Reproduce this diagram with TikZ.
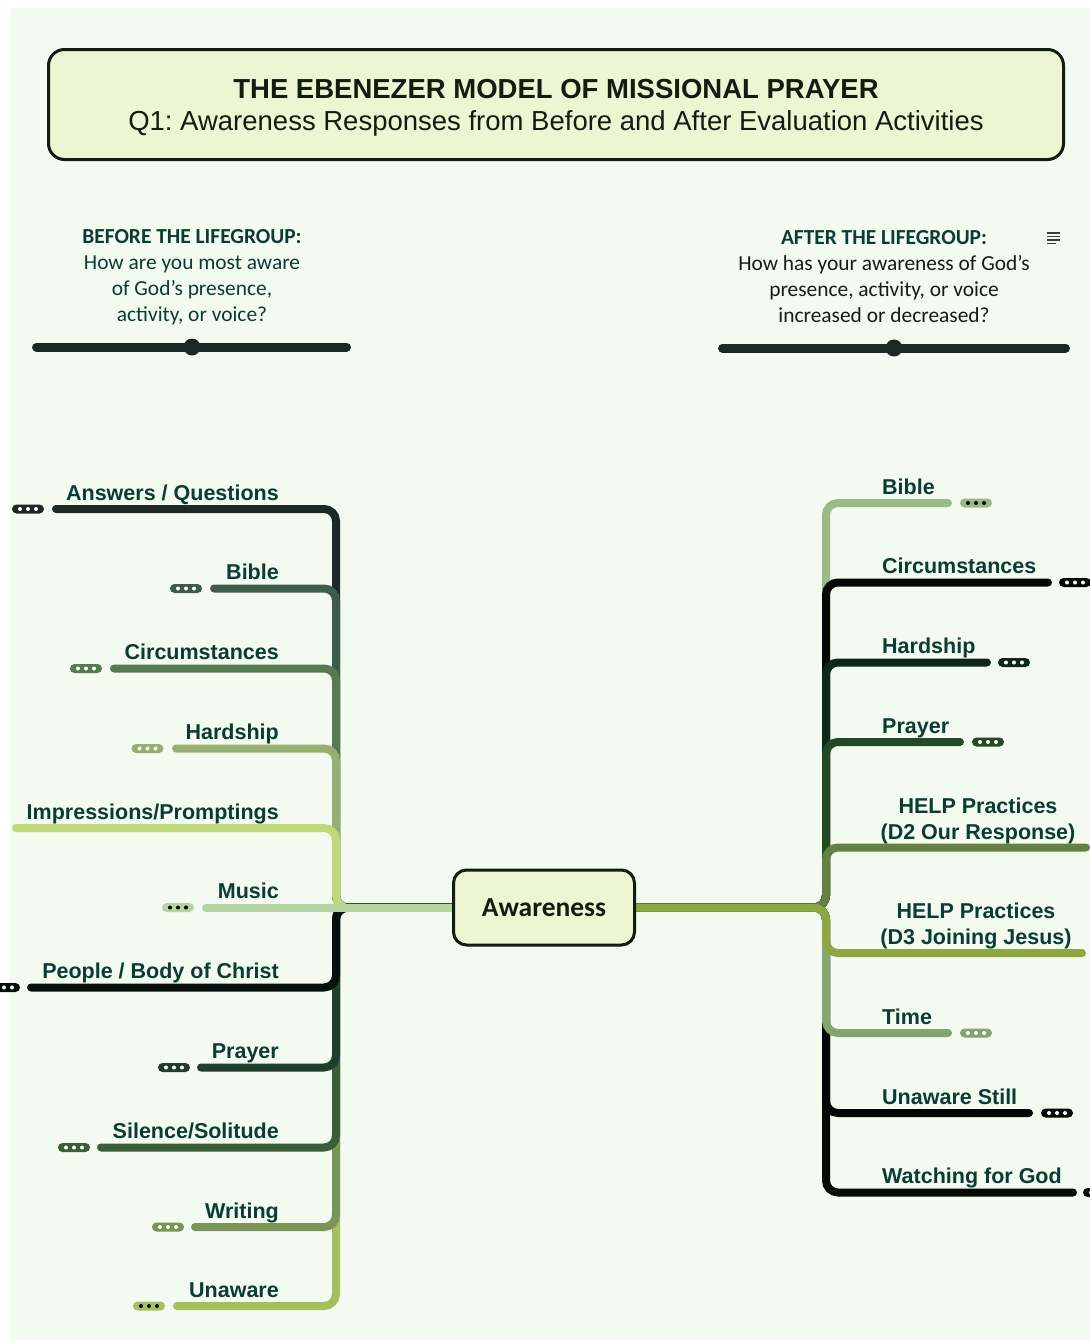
\documentclass[tikz,border=0pt]{standalone}
\usepackage{fontspec}
\setmainfont{Liberation Sans}
\newfontfamily\calfont{Carlito}
\usetikzlibrary{backgrounds}

\definecolor{mint}{HTML}{F3FAEF}
\definecolor{pale}{HTML}{EEF5D3}
\definecolor{edge}{HTML}{121C10}
\definecolor{labtxt}{HTML}{0B3B35}
\definecolor{bar}{HTML}{1C2826}
\definecolor{icon}{HTML}{34403E}
% left branches
\definecolor{c-ans}{HTML}{1C2926}
\definecolor{c-bib}{HTML}{3E5C4A}
\definecolor{c-cir}{HTML}{567A52}
\definecolor{c-har}{HTML}{96AE72}
\definecolor{c-imp}{HTML}{BFD878}
\definecolor{c-mus}{HTML}{B3D3A0}
\definecolor{c-peo}{HTML}{050F0B}
\definecolor{c-pra}{HTML}{213D2C}
\definecolor{c-sil}{HTML}{3A5E38}
\definecolor{c-wri}{HTML}{7A9458}
\definecolor{c-una}{HTML}{A4BF5E}
% right branches
\definecolor{c-rbib}{HTML}{9CBA86}
\definecolor{c-rcir}{HTML}{050805}
\definecolor{c-rhar}{HTML}{0D2818}
\definecolor{c-rpra}{HTML}{234A22}
\definecolor{c-rd2}{HTML}{667F42}
\definecolor{c-rd3}{HTML}{8DA842}
\definecolor{c-rtim}{HTML}{85A56E}
\definecolor{c-runa}{HTML}{030604}
\definecolor{c-rwat}{HTML}{020C05}

\begin{document}
\begin{tikzpicture}[x = 1pt, y = -1pt,
    branch/.style = {line width = 8pt, line cap = round, rounded corners = 12pt},
    lbl/.style = {inner sep = 0pt, text = labtxt, font = \fontsize{21.5}{26}\selectfont\bfseries},
    head/.style = {anchor = base, align = center, inner sep = 0pt, font = \calfont\fontsize{21.4}{26}\selectfont},
    more/.style 2 args = {rectangle, rounded corners = 4.5pt, fill = #1, inner sep = 0pt,
        minimum width = 32pt, minimum height = 9pt,
        path picture = {\foreach \k in {-8,0,8}
            \fill[#2] ([xshift = \k pt]path picture bounding box.center) circle (2pt);}},
    slider/.style = {line width = 9pt, line cap = round, draw = bar}]
\useasboundingbox (0,0) rectangle (1090,1342);

\node[draw = edge, line width = 3pt, fill = pale, rounded corners = 16pt,
    minimum width = 1015pt, minimum height = 110pt] (title) at (556,104.5) {};
\node[anchor = base, font = \fontsize{27.5}{33}\selectfont\bfseries, text = edge] (title-a) at (556,98) {THE EBENEZER MODEL OF MISSIONAL PRAYER};
\node[anchor = base, font = \fontsize{27.5}{33}\selectfont\frenchspacing, text = edge] (title-b) at (556,130) {Q1: Awareness Responses from Before and After Evaluation Activities};

% last line sits on the anchor
\node[head, text = labtxt] (before) at (192,321) {\textbf{BEFORE THE LIFEGROUP:}\\How are you most aware\\of God’s presence,\\activity, or voice?};
\node[head, text = black!90] (after) at (884,322) {\textcolor{labtxt}{\textbf{AFTER THE LIFEGROUP:}}\\How has your awareness of God’s\\presence, activity, or voice\\increased or decreased?};
\foreach \yy/\len in {233/13, 236.5/13, 240/13, 243.5/9}
    \draw[icon, line width = 1.3pt] (1047,\yy) -- ++(\len,0);

\draw[slider] (36.5,347) -- (346.5,347);
\fill[bar] (192,347) circle (8.5pt);
\draw[slider] (722.5,348) -- (1065.5,348);
\fill[bar] (894,348) circle (8.5pt);

\node[draw = edge, line width = 3pt, fill = pale, rounded corners = 13pt,
    minimum width = 181pt, minimum height = 75pt, text = edge,
    font = \calfont\fontsize{27.5}{30}\selectfont\bfseries] (aw) at (544,907.5) {Awareness};
\coordinate (jl) at (336,907.5);
\coordinate (jr) at (826,907.5);

\foreach \n/\x/\y/\p/\dc/\t in {
    ans/56/509/28/white/{Answers / Questions},
    bib/214/588.5/186/white/Bible,
    cir/114/668.5/86/white/Circumstances,
    har/176/748.5/147.5/white/Hardship,
    mus/206/907.5/178/black/Music,
    peo/31/987.5/4/white/{People / Body of Christ},
    pra/201/1067.5/174/white/Prayer,
    sil/101/1147.5/74/white/{Silence/Solitude},
    wri/195/1227/168/white/Writing,
    una/177/1306/149/black/Unaware}{
    \coordinate (\n) at (\x,\y);
    \node[lbl, anchor = base east] (\n-t) at (279,\y-9) {\t};
    \node[more = {c-\n}{\dc}] (\n-m) at (\p,\y) {};
}
\coordinate (imp) at (16,828);
\node[lbl, anchor = base east] (imp-t) at (279,819) {Impressions/Promptings};

\foreach \n/\x/\y/\p/\dc/\t in {
    rbib/948/503/976/black/Bible,
    rcir/1048/582.5/1075/white/Circumstances,
    rhar/987/662.5/1014/white/Hardship,
    rpra/960/742/988/white/Prayer,
    rtim/948/1033/976/white/Time,
    runa/1029/1113/1057/white/{Unaware Still},
    rwat/1073/1192.5/1099/white/{Watching for God}}{
    \coordinate (\n) at (\x,\y);
    \node[lbl, anchor = base west] (\n-t) at (882,\y-9) {\t};
    \node[more = {c-\n}{\dc}] (\n-m) at (\p,\y) {};
}
\coordinate (rd2) at (1086,847.5);
\node[lbl, align = center, anchor = base] (rd2-t) at (978,839) {HELP Practices\\(D2 Our Response)};
\coordinate (rd3) at (1082,953);
\node[lbl, align = center, anchor = base] (rd3-t) at (976,944) {HELP Practices\\(D3 Joining Jesus)};

\begin{scope}[on background layer]
    \fill[white] (0,0) rectangle (1090,1342);
    \fill[mint] (10,8) rectangle (1090,1340);
    \foreach \n in {ans,bib,cir,har,imp,una,wri,sil,pra,peo}
        \draw[branch, draw = c-\n] (aw.west) -- (jl) |- (\n);
    \draw[branch, draw = c-mus] (aw.west) -- (mus);
    \foreach \n in {rbib,rcir,rhar,rpra,rd2,rwat,runa,rtim,rd3}
        \draw[branch, draw = c-\n] (aw.east) -- (jr) |- (\n);
\end{scope}
\end{tikzpicture}
\end{document}
